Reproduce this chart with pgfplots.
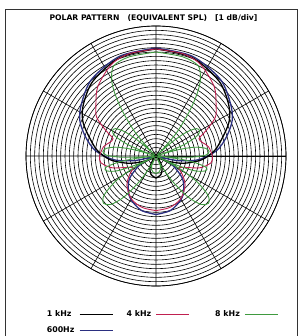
\documentclass[border=0pt]{standalone}
\usepackage{fontspec}
\setmainfont{DejaVu Sans}
\usepackage{pgfplots}
\usepackage{pgfplotstable}
\usepgfplotslibrary{polar}
\pgfplotsset{compat=1.18}
\definecolor{cblue}{HTML}{2B2F80}
\definecolor{cred}{HTML}{C02050}
\definecolor{cgreen}{HTML}{3F9A3F}
% compass angle t (0 = front/top), level r in dB above the centre (-30 dB)
\pgfplotstableread{
t r
0 24.7
20 24.2
40 22.6
55 20.5
65 18.6
75 15.8
85 13.5
95 10.5
105 6.5
115 2.8
125 0.9
135 0.7
150 2.8
165 4.4
180 5.1
}\onek
\pgfplotstableread{
t r
0 24.9
20 24.5
40 23.1
55 21.0
65 19.4
75 16.8
85 14.0
95 9.8
102 5.1
108 0.7
115 2.8
120 4.7
130 7.9
140 10.0
150 11.6
165 13.0
180 13.5
}\sixh
\pgfplotstableread{
t r
0 24.7
15 24.4
26 23.5
40 20.9
50 18.1
57 16.3
63 13.0
68 10.7
74 11.2
80 12.3
90 13.0
97 12.8
105 10.5
112 7.0
118 6.0
125 7.4
135 9.5
150 11.4
165 12.3
180 12.6
}\fourk
\pgfplotstableread{
t r
0 24.0
15 23.7
25 23.0
30 20.5
33 17.7
36 14.0
39 10.0
42 6.5
45 2.3
47 0.5
49 5
52 9
56 11.3
60 11.6
64 10.5
68 7
71 2
72.5 0.5
74 5
77 9
81 11.5
85 12.3
89 11.5
92 8
94 3
95.5 0.5
97 5
99.5 9
103 12
107 11.8
111 9.5
114 5
116 0.5
118 6
122 11
127 15
132 16.3
137 15.3
142 12
147 7
151 3
153 0.5
156 2.5
162 3.3
170 3.8
180 4.0
}\eightk
\begin{document}
\begin{tikzpicture}[x=1bp,y=1bp]
\useasboundingbox (0,0) rectangle (302,336);
\draw[line width=0.6pt, black!80] (5,-2) -- (5,327) -- (297,327) -- (297,-2);
\node[font=\bfseries\fontsize{7.7}{9}\selectfont] at (153.5,318)
  {POLAR PATTERN\hspace{8bp}(EQUIVALENT SPL)\hspace{8bp}[1 dB/div]};
\begin{polaraxis}[
  at={(156bp,180bp)}, anchor=center,
  scale only axis, width=260bp, height=260bp,
  xmin=0, xmax=360, ymin=0, ymax=30,
  xtick={0,30,...,330}, ytick={0,1,...,30},
  xticklabels={}, yticklabels={},
  major tick length=0pt,
  grid=major,
  major grid style={black, line width=0.6pt},
  axis line style={black, line width=0.7pt},
  legend columns=3,
  legend plot pos=right,
  legend cell align=left,
  legend image code/.code={\draw[#1] (0bp,0bp) -- (33bp,0bp);},
  legend style={draw=none, fill=none, at={(0.062,-0.08)}, anchor=north west,
    font=\bfseries\fontsize{7.9}{9}\selectfont,
    nodes={inner sep=1.5bp},
    row sep=6bp,
    /tikz/column 1/.style={column sep=3bp},
    /tikz/column 2/.style={column sep=12bp},
    /tikz/column 3/.style={column sep=3bp},
    /tikz/column 4/.style={column sep=24bp},
    /tikz/column 5/.style={column sep=3bp}},
]
\addplot[cblue, line width=1.3pt, smooth, forget plot] table[x expr={90-\thisrow{t}}, y=r] {\sixh};
\addplot[cblue, line width=1.3pt, smooth, forget plot] table[x expr={90+\thisrow{t}}, y=r] {\sixh};
\addplot[black, line width=1.3pt, smooth, forget plot] table[x expr={90-\thisrow{t}}, y=r] {\onek};
\addplot[black, line width=1.3pt, smooth, forget plot] table[x expr={90+\thisrow{t}}, y=r] {\onek};
\addplot[cred, line width=0.9pt, smooth, forget plot] table[x expr={90-\thisrow{t}}, y=r] {\fourk};
\addplot[cred, line width=0.9pt, smooth, forget plot] table[x expr={90+\thisrow{t}}, y=r] {\fourk};
\addplot[cgreen, line width=0.9pt, smooth, forget plot] table[x expr={90-\thisrow{t}}, y=r] {\eightk};
\addplot[cgreen, line width=0.9pt, smooth, forget plot] table[x expr={90+\thisrow{t}}, y=r] {\eightk};
\addlegendimage{black, line width=1.3pt}
\addlegendimage{cred, line width=0.9pt}
\addlegendimage{cgreen, line width=0.9pt}
\addlegendimage{cblue, line width=1.3pt}
\legend{1 kHz, 4 kHz, 8 kHz, 600Hz}
\end{polaraxis}
\end{tikzpicture}
\end{document}
